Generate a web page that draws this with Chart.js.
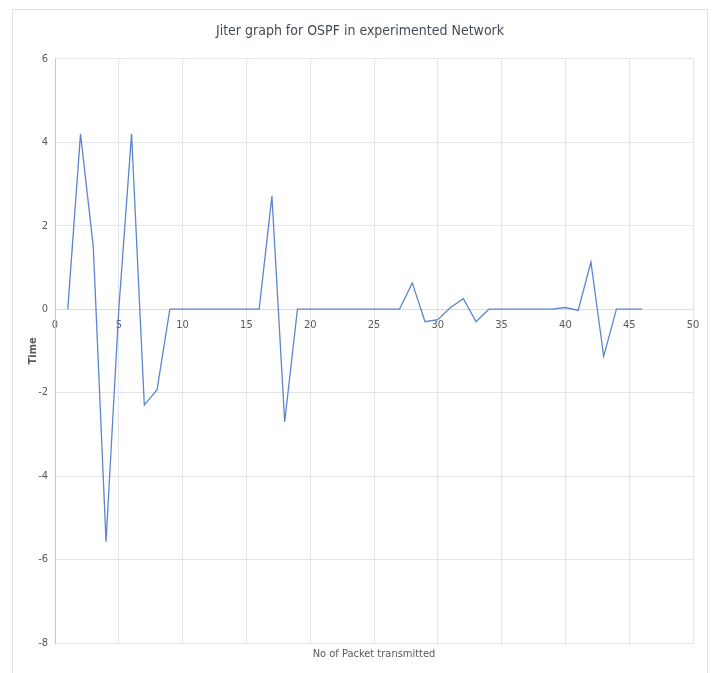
<!DOCTYPE html>
<html lang="en">
<head>
  <meta charset="UTF-8">
  <title>Jiter graph for OSPF</title>
  <script src="https://cdn.jsdelivr.net/npm/chart.js"></script>
  <style>
    html, body {
      margin: 0;
      padding: 0;
      background: #ffffff;
    }
    .frame {
      position: absolute;
      left: 12px;
      top: 9px;
      width: 696px;
      height: 680px;
      border: 1px solid #e3e3e6;
      box-sizing: border-box;
    }
    .chart-container {
      position: absolute;
      left: 0;
      top: 0;
      width: 714px;
      height: 673px;
    }
  </style>
</head>
<body>

  <div class="frame"></div>
  <div class="chart-container">
    <canvas id="jitterChart"></canvas>
  </div>

  <script>
    // packet number and jitter value for each packet
    const packets = [1, 2, 3, 4, 5, 6, 7, 8, 9, 10,
                     11, 12, 13, 14, 15, 16, 17, 18, 19, 20,
                     21, 22, 23, 24, 25, 26, 27, 28, 29, 30,
                     31, 32, 33, 34, 35, 36, 37, 38, 39, 40,
                     41, 42, 43, 44, 45, 46];
    const jitter = [0, 4.2, 1.5, -5.57, 0, 4.2, -2.3, -1.93, 0, 0,
                    0, 0, 0, 0, 0, 0, 2.71, -2.7, 0, 0,
                    0, 0, 0, 0, 0, 0, 0, 0.63, -0.3, -0.25,
                    0.04, 0.25, -0.3, 0, 0, 0, 0, 0, 0, 0.04,
                    -0.03, 1.13, -1.13, 0, 0, 0];
    const yTicks = [-8, -6, -4, -2, 0, 2, 4, 6];
    const xTicks = [0, 5, 10, 15, 20, 25, 30, 35, 40, 45, 50];

    const font = "'DejaVu Sans Condensed', 'Roboto', sans-serif";
    const gray = '#595959';
    const gridColor = '#e2e5eb';

    const points = packets.map((p, i) => ({ x: p, y: jitter[i] }));

    const ctx = document.getElementById('jitterChart').getContext('2d');
    const jitterChart = new Chart(ctx, {
      type: 'line',
      data: {
        datasets: [{
          data: points,
          borderColor: '#5b86cf',
          borderWidth: 1.3,
          pointRadius: 0,
          tension: 0,
          fill: false
        }]
      },
      options: {
        responsive: true,
        maintainAspectRatio: false,
        animation: false,
        layout: {
          padding: { left: 27, right: 21, top: 0, bottom: 0 }
        },
        plugins: {
          legend: { display: false },
          tooltip: { enabled: false },
          title: {
            display: true,
            text: 'Jiter graph for OSPF in experimented Network',
            color: '#444b58',
            font: { family: font, size: 14, weight: 'normal' },
            padding: { top: 23, bottom: 19 }
          }
        },
        scales: {
          x: {
            type: 'linear',
            min: 0,
            max: 50,
            afterBuildTicks: (axis) => { axis.ticks = xTicks.map(v => ({ value: v })); },
            afterFit: (axis) => { axis.height = 30; },
            ticks: { display: false },
            grid: { color: gridColor, drawTicks: false },
            border: { display: true, color: gridColor },
            title: {
              display: true,
              text: 'No of Packet transmitted',
              color: gray,
              font: { family: font, size: 11 },
              padding: { top: 4, bottom: 12 }
            }
          },
          xAxis0: {
            type: 'linear',
            position: { y: 0 },
            min: 0,
            max: 50,
            afterBuildTicks: (axis) => { axis.ticks = xTicks.map(v => ({ value: v })); },
            ticks: {
              color: gray,
              font: { family: font, size: 11 },
              padding: 9
            },
            grid: { display: false, drawTicks: false },
            border: { display: true, color: '#d9dce2' }
          },
          y: {
            type: 'linear',
            min: -8,
            max: 6,
            afterBuildTicks: (axis) => { axis.ticks = yTicks.map(v => ({ value: v })); },
            afterFit: (axis) => { axis.width = 28; },
            ticks: {
              color: gray,
              font: { family: font, size: 11 },
              padding: 7
            },
            grid: { color: gridColor, drawTicks: false },
            border: { display: true, color: '#c3c7cf' },
            title: {
              display: true,
              text: 'Time',
              color: gray,
              font: { family: font, size: 11, weight: 'bold' },
              padding: { top: 0, bottom: 4 }
            }
          }
        }
      }
    });
  </script>

</body>
</html>
